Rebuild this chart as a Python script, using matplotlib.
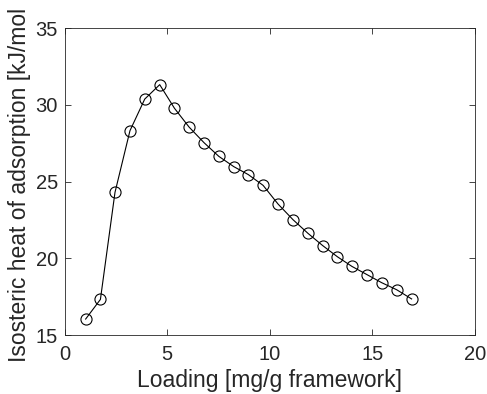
import matplotlib
matplotlib.use("Agg")
import matplotlib.pyplot as plt
from matplotlib.transforms import Bbox, TransformedBbox

# loading [mg/g framework] and isosteric heat [kJ/mol]
loading = [1.02, 1.74, 2.45, 3.18, 3.90, 4.63, 5.35, 6.06, 6.79, 7.51, 8.24, 8.95,
           9.67, 10.40, 11.13, 11.86, 12.58, 13.29, 14.00, 14.74, 15.45, 16.18, 16.91]
qst = [16.04, 17.32, 24.29, 28.31, 30.37, 31.31, 29.77, 28.55, 27.53, 26.64, 25.97, 25.45,
       24.75, 23.53, 22.51, 21.62, 20.82, 20.10, 19.47, 18.93, 18.41, 17.95, 17.35]

xticks = [0, 5, 10, 15, 20]
yticks = [15, 20, 25, 30, 35]

plt.rcParams['font.family'] = ['Liberation Sans', 'DejaVu Sans']
dark = (0.15, 0.15, 0.15)

fig = plt.figure(figsize=(4.87, 3.94), dpi=100)
ax = fig.add_axes([0.1329, 0.1497, 0.9754 - 0.1329, 0.9289 - 0.1497])

ax.plot(loading, qst, '-o', color='k', lw=0.8, markersize=8,
        markerfacecolor='none', markeredgewidth=0.8)

ax.set_xlim(0, 20)
ax.set_ylim(15, 35)
ax.set_xticks(xticks)
ax.set_yticks(yticks)
ax.tick_params(direction='in', top=True, right=True, length=4, width=0.6,
               colors=dark, labelsize=14.5, labelcolor=dark)
ax.tick_params(axis='x', pad=7)
ax.tick_params(axis='y', pad=5)
for s in ax.spines.values():
    s.set_color(dark)
    s.set_linewidth(0.6)

ax.set_xlabel("Loading [mg/g framework]", fontsize=16.5, color=dark, labelpad=4)
ylab = ax.set_ylabel("Isosteric heat of adsorption [kJ/mol]", fontsize=16.5,
                     color=dark, labelpad=3)
# the original image is cropped through the closing bracket
ylab.set_clip_box(TransformedBbox(Bbox([[0, 0], [1, 1 - 9.5 / 394]]), fig.transFigure))
ylab.set_clip_on(True)

fig.savefig("out.png", dpi=100)
